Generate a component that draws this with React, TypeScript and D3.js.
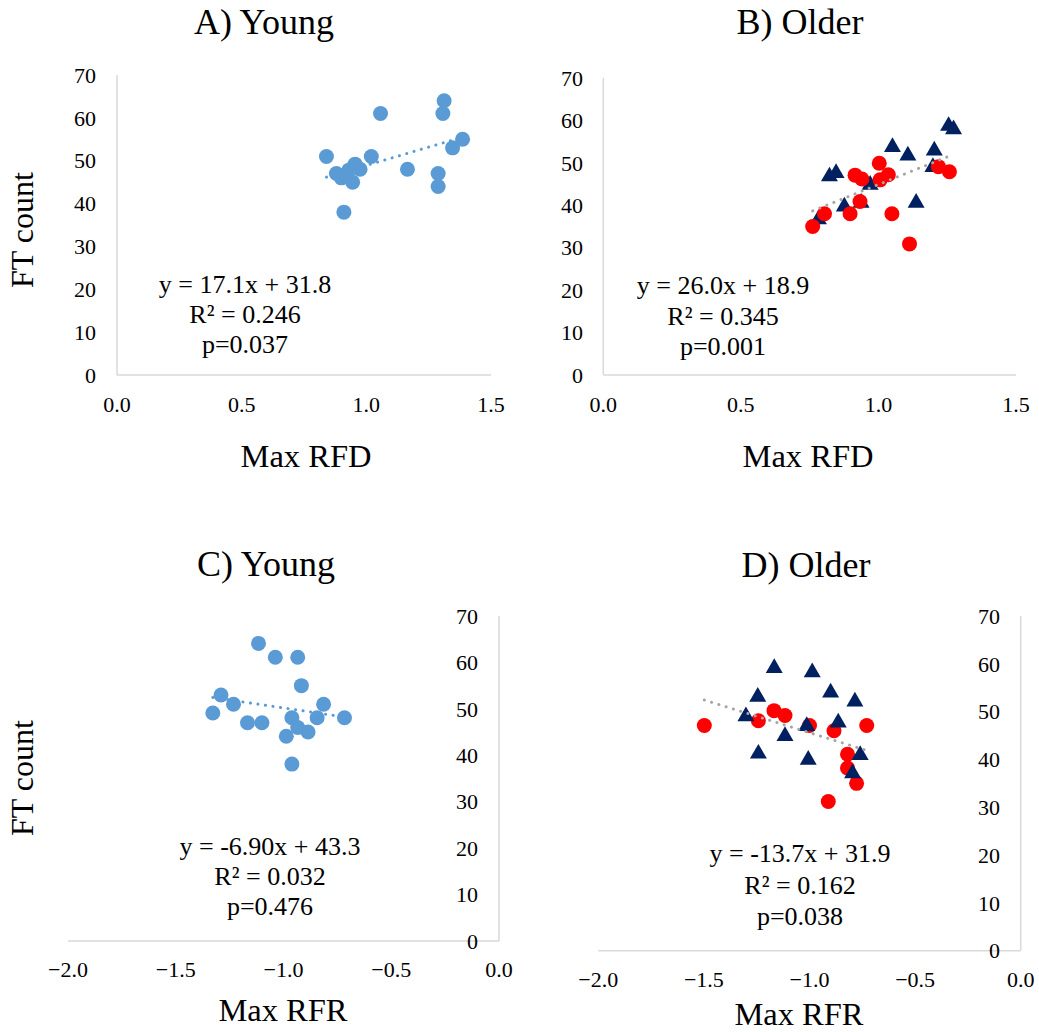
import React from "react";
import * as d3 from "d3";

// ---------- data ----------
// A) Young: Max RFD vs FT count
const youngRfdX = [0.84, 0.88, 0.9, 0.91, 0.93, 0.95, 0.955, 0.945, 0.975, 1.02, 1.057, 1.165, 1.288, 1.288, 1.312, 1.307, 1.346, 1.386];
const youngRfdY = [51, 47, 46, 38, 47.8, 48.7, 49.2, 45, 48, 51, 61, 48, 47, 44, 64, 61, 53, 55];

// B) Older: Max RFD vs FT count (two subgroups)
const olderRfdCircleX = [0.761, 0.804, 0.897, 0.915, 0.94, 0.933, 1.003, 1.006, 1.036, 1.049, 1.113, 1.218, 1.258];
const olderRfdCircleY = [35, 38, 38, 47.1, 46.2, 40.9, 49.9, 46, 47.2, 38, 30.9, 49.1, 47.9];
const olderRfdTriX = [0.782, 0.822, 0.846, 0.876, 0.937, 0.97, 1.051, 1.107, 1.137, 1.203, 1.198, 1.255, 1.273];
const olderRfdTriY = [36.7, 46.8, 47.6, 39.7, 40.6, 44.8, 53.7, 51.7, 40.6, 52.9, 49, 58.7, 57.9];

// C) Young: Max RFR vs FT count
const youngRfrX = [-1.116, -1.038, -0.934, -0.917, -1.29, -1.232, -1.328, -0.814, -1.167, -1.1, -0.961, -0.844, -0.717, -0.934, -0.886, -0.987, -0.961];
const youngRfrY = [64.1, 61.1, 61.1, 55, 53, 51, 49.1, 51, 47, 47, 48.1, 48.1, 48.1, 46, 45, 44.1, 38.1];

// D) Older: Max RFR vs FT count (two subgroups)
const olderRfrCircleX = [-1.498, -1.242, -1.168, -1.116, -1.0, -0.884, -0.729, -0.82, -0.82, -0.777, -0.911];
const olderRfrCircleY = [47.1, 48.1, 50.2, 49.2, 47.1, 46, 47.1, 41.1, 38.2, 35, 31.2];
const olderRfrTriX = [-1.167, -0.987, -0.9, -1.245, -0.785, -1.301, -0.864, -1.013, -1.116, -1.242, -1.006, -0.76, -0.796];
const olderRfrTriY = [59.1, 58.2, 54, 53.1, 52.1, 49, 47.7, 47, 44.9, 41.2, 39.9, 40.9, 37.1];

// regression results [slope, intercept]
const fitA = [17.1, 31.8];
const fitB = [26.0, 18.9];
const fitC = [-6.9, 43.3];
const fitD = [-13.7, 31.9];

const statsA = ["y = 17.1x + 31.8", "R² = 0.246", "p=0.037"];
const statsB = ["y = 26.0x + 18.9", "R² = 0.345", "p=0.001"];
const statsC = ["y = -6.90x + 43.3", "R² = 0.032", "p=0.476"];
const statsD = ["y = -13.7x + 31.9", "R² = 0.162", "p=0.038"];

const rfdTicks = [0, 0.5, 1.0, 1.5];
const rfrTicks = [-2.0, -1.5, -1.0, -0.5, 0.0];
const countTicks = [0, 10, 20, 30, 40, 50, 60, 70];

// ---------- styles ----------
const FONT = "'Liberation Serif', 'Times New Roman', serif";
const BLUE = "#5B9BD5";
const RED = "#FF0000";
const NAVY = "#002060";
const TREND_GRAY = "#A5A5A5";
const AXIS = "#D9D9D9";

const zip = (xs: number[], ys: number[]) => xs.map((x, i) => ({ x, y: ys[i] }));

type Series = { pts: { x: number; y: number }[]; shape: "circle" | "triangle"; color: string };

type PanelProps = {
  title: string;
  xLabel: string;
  xDomain: [number, number];
  xRange: [number, number];
  yRange: [number, number];
  xTicks: number[];
  series: Series[];
  fit: number[];
  fitXs: number[];
  trendColor: string;
  stats: string[];
  statsX: number;
  statsY: number;
  statsGap: number;
  yAxisRight: boolean;
  yTickX: number;
  xTickY: number;
  titleX: number;
  titleY: number;
  xLabelX: number;
  xLabelY: number;
  yLabel?: { x: number; y: number };
};

function Panel(p: PanelProps) {
  const x = d3.scaleLinear().domain(p.xDomain).range(p.xRange);
  const y = d3.scaleLinear().domain([0, 70]).range(p.yRange);
  const fmt = d3.format(".1f");
  const axisX = p.yAxisRight ? p.xRange[1] : p.xRange[0];
  const [x0, x1] = d3.extent(p.fitXs) as [number, number];
  const line = d3
    .line<number>()
    .x((v) => x(v))
    .y((v) => y(p.fit[0] * v + p.fit[1]));
  const tri = d3.symbol().type(d3.symbolTriangle).size(125);

  return (
    <g>
      <text x={p.titleX} y={p.titleY} textAnchor="middle" fontSize={36} fontFamily={FONT}>
        {p.title}
      </text>
      {/* axes */}
      <line x1={p.xRange[0]} x2={p.xRange[1]} y1={y(0)} y2={y(0)} stroke={AXIS} strokeWidth={1.5} />
      <line x1={axisX} x2={axisX} y1={y(0)} y2={y(70)} stroke={AXIS} strokeWidth={1.5} />
      {countTicks.map((t) => (
        <text key={"y" + t} x={p.yTickX} y={y(t)} dy="0.35em" textAnchor="end" fontSize={22} fontFamily={FONT}>
          {t}
        </text>
      ))}
      {p.xTicks.map((t) => (
        <text key={"x" + t} x={x(t)} y={p.xTickY} textAnchor="middle" fontSize={22} fontFamily={FONT}>
          {fmt(t)}
        </text>
      ))}
      {/* points */}
      {p.series.map((s, si) =>
        s.pts.map((d, i) =>
          s.shape === "circle" ? (
            <circle key={si + "-" + i} cx={x(d.x)} cy={y(d.y)} r={7.5} fill={s.color} />
          ) : (
            <path
              key={si + "-" + i}
              d={tri() as string}
              transform={`translate(${x(d.x)},${y(d.y)})`}
              fill={s.color}
            />
          )
        )
      )}
      {/* linear trend */}
      <path
        d={line([x0, x1]) as string}
        fill="none"
        stroke={p.trendColor}
        strokeWidth={3}
        strokeLinecap="round"
        strokeDasharray="0.1 7.5"
      />
      {p.stats.map((s, i) => (
        <text
          key={"s" + i}
          x={p.statsX}
          y={p.statsY + i * p.statsGap}
          textAnchor="middle"
          fontSize={26}
          fontFamily={FONT}
        >
          {s}
        </text>
      ))}
      <text x={p.xLabelX} y={p.xLabelY} textAnchor="middle" fontSize={32.5} fontFamily={FONT}>
        {p.xLabel}
      </text>
      {p.yLabel && (
        <text
          transform={`translate(${p.yLabel.x},${p.yLabel.y}) rotate(-90)`}
          textAnchor="middle"
          fontSize={32}
          fontFamily={FONT}
        >
          FT count
        </text>
      )}
    </g>
  );
}

export default function App() {
  const seriesA: Series[] = [{ pts: zip(youngRfdX, youngRfdY), shape: "circle", color: BLUE }];
  const seriesB: Series[] = [
    { pts: zip(olderRfdTriX, olderRfdTriY), shape: "triangle", color: NAVY },
    { pts: zip(olderRfdCircleX, olderRfdCircleY), shape: "circle", color: RED },
  ];
  const seriesC: Series[] = [{ pts: zip(youngRfrX, youngRfrY), shape: "circle", color: BLUE }];
  const seriesD: Series[] = [
    { pts: zip(olderRfrCircleX, olderRfrCircleY), shape: "circle", color: RED },
    { pts: zip(olderRfrTriX, olderRfrTriY), shape: "triangle", color: NAVY },
  ];

  return (
    <svg
      width={1039}
      height={1032}
      style={{ position: "absolute", left: 0, top: 0, background: "#fff" }}
    >
      <rect width={1039} height={1032} fill="#fff" />
      <Panel
        title="A) Young"
        xLabel="Max RFD"
        xDomain={[0, 1.5]}
        xRange={[117, 491]}
        yRange={[375, 75]}
        xTicks={rfdTicks}
        series={seriesA}
        fit={fitA}
        fitXs={youngRfdX}
        trendColor={BLUE}
        stats={statsA}
        statsX={245}
        statsY={293}
        statsGap={30}
        yAxisRight={false}
        yTickX={96}
        xTickY={412}
        titleX={264}
        titleY={34}
        xLabelX={306}
        xLabelY={467}
        yLabel={{ x: 33, y: 230 }}
      />
      <Panel
        title="B) Older"
        xLabel="Max RFD"
        xDomain={[0, 1.5]}
        xRange={[603.3, 1016]}
        yRange={[375, 78]}
        xTicks={rfdTicks}
        series={seriesB}
        fit={fitB}
        fitXs={[...olderRfdCircleX, ...olderRfdTriX]}
        trendColor={TREND_GRAY}
        stats={statsB}
        statsX={723}
        statsY={294}
        statsGap={30.5}
        yAxisRight={false}
        yTickX={583}
        xTickY={412}
        titleX={800}
        titleY={34}
        xLabelX={808}
        xLabelY={467}
      />
      <Panel
        title="C) Young"
        xLabel="Max RFR"
        xDomain={[-2, 0]}
        xRange={[68, 499]}
        yRange={[941, 616]}
        xTicks={rfrTicks}
        series={seriesC}
        fit={fitC}
        fitXs={youngRfrX}
        trendColor={BLUE}
        stats={statsC}
        statsX={270}
        statsY={855}
        statsGap={30}
        yAxisRight={true}
        yTickX={478}
        xTickY={977}
        titleX={266}
        titleY={576}
        xLabelX={283}
        xLabelY={1021}
        yLabel={{ x: 33, y: 778 }}
      />
      <Panel
        title="D) Older"
        xLabel="Max RFR"
        xDomain={[-2, 0]}
        xRange={[598.3, 1020.7]}
        yRange={[950.7, 616]}
        xTicks={rfrTicks}
        series={seriesD}
        fit={fitD}
        fitXs={[...olderRfrCircleX, ...olderRfrTriX]}
        trendColor={TREND_GRAY}
        stats={statsD}
        statsX={800}
        statsY={862}
        statsGap={31.5}
        yAxisRight={true}
        yTickX={1000}
        xTickY={987}
        titleX={806}
        titleY={577}
        xLabelX={799}
        xLabelY={1025}
      />
    </svg>
  );
}
